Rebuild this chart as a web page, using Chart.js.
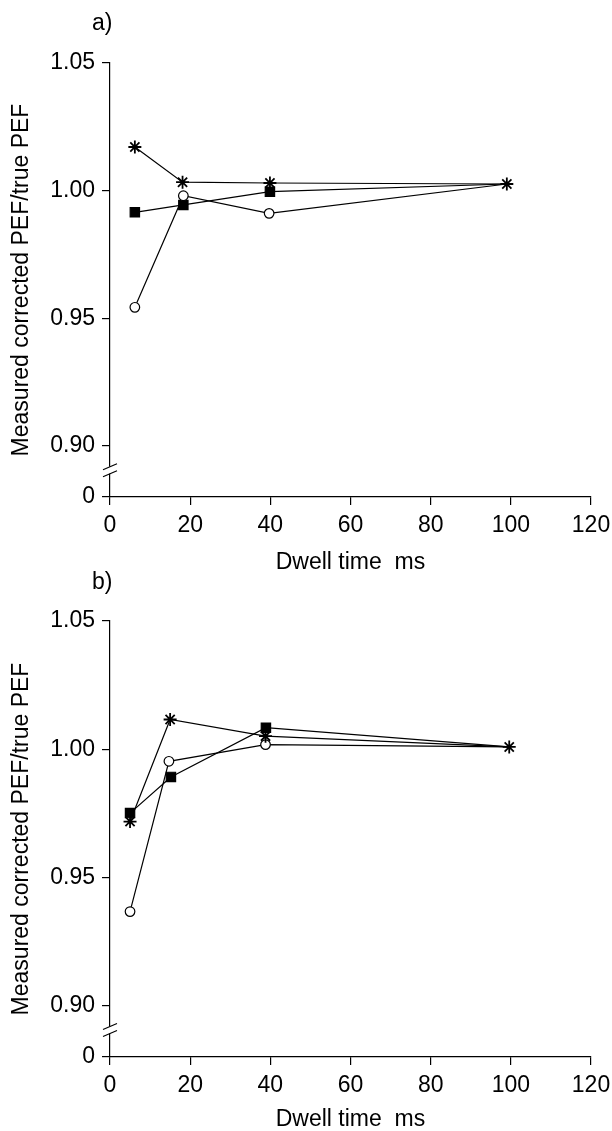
<!DOCTYPE html>
<html>
<head>
<meta charset="utf-8">
<script src="https://cdn.jsdelivr.net/npm/chart.js@4.4.1/dist/chart.umd.min.js"></script>
<style>
  html, body { margin: 0; padding: 0; background: #fff; overflow: hidden; }
  #page { position: relative; width: 612px; height: 1131px; }
  canvas { position: absolute; left: 0; }
  #chartA { top: 0; }
  #chartB { top: 560px; }
  .panel { position: absolute; left: 92px; font: 23px 'Liberation Sans', Arial, sans-serif; color: #000; z-index: 2; line-height: 1; }
</style>
</head>
<body>
<div id="page">
  <canvas id="chartA" width="612" height="600"></canvas>
  <canvas id="chartB" width="612" height="600"></canvas>
  <div class="panel" style="top: 11px;">a)</div>
  <div class="panel" style="top: 570px;">b)</div>
</div>
<script>
// tick values; 0.88 stands for the "0" drawn below the axis break
const xTicks = [0, 20, 40, 60, 80, 100, 120];
const yTickValues = [0.88, 0.90, 0.95, 1.00, 1.05];
const yTickLabels = ['0', '0.90', '0.95', '1.00', '1.05'];
const breakAt = 0.8905;

// panel a
const aStarX = [6.2, 18.1, 39.9, 99.0];
const aStarY = [1.0171, 1.0033, 1.0030, 1.0026];
const aSquareX = [6.2, 18.3, 39.9, 99.0];
const aSquareY = [0.9915, 0.9944, 0.9996, 1.0026];
const aCircleX = [6.2, 18.3, 39.7, 99.0];
const aCircleY = [0.9543, 0.9980, 0.9911, 1.0026];

// panel b
const bStarX = [5.0, 15.0, 38.8, 99.6];
const bStarY = [0.9718, 1.0116, 1.0051, 1.0009];
const bSquareX = [5.0, 15.2, 38.9, 99.6];
const bSquareY = [0.9751, 0.9892, 1.0084, 1.0009];
const bCircleX = [5.0, 14.7, 38.8, 99.6];
const bCircleY = [0.9367, 0.9953, 1.0018, 1.0009];

Chart.defaults.color = '#000';
Chart.defaults.font.family = "'Liberation Sans', Arial, sans-serif";
Chart.defaults.font.size = 23;

const axisBreak = {
  id: 'axisBreak',
  afterDraw(chart) {
    const y = chart.scales.y;
    const ctx = chart.ctx;
    const x0 = chart.chartArea.left;
    const yc = y.getPixelForValue(breakAt);
    ctx.save();
    ctx.fillStyle = '#fff';
    ctx.fillRect(x0 - 2, yc - 3.5, 4, 7);
    ctx.strokeStyle = '#000';
    ctx.lineWidth = 1.2;
    ctx.beginPath();
    ctx.moveTo(x0 - 7, yc - 0.5);
    ctx.lineTo(x0 + 7, yc - 6.5);
    ctx.moveTo(x0 - 7, yc + 6.5);
    ctx.lineTo(x0 + 7, yc + 0.5);
    ctx.stroke();
    ctx.restore();
  }
};

// the shared end point at ~100 ms shows only the asterisk
function series(xs, ys, style, fill, r, bw, hideLast) {
  return {
    data: xs.map((x, i) => ({ x: x, y: ys[i] })),
    pointStyle: style,
    pointRadius: xs.map((x, i) => (hideLast && i === xs.length - 1 ? 0 : r)),
    pointBackgroundColor: fill,
    pointBorderColor: '#000',
    pointBorderWidth: bw,
    borderColor: '#000',
    borderWidth: 1.2,
    fill: false,
    tension: 0
  };
}

function makeChart(id, top, titlePad, sets) {
  const H = 600;
  const bottom = 497;
  return new Chart(document.getElementById(id), {
    type: 'line',
    data: {
      datasets: [
        series(sets[0], sets[1], 'star', '#000', 6.5, 1.8, false),
        series(sets[4], sets[5], 'circle', '#fff', 4.8, 1.2, true),
        series(sets[2], sets[3], 'rect', '#000', 6.6, 1.2, true)
      ]
    },
    options: {
      responsive: false,
      animation: false,
      layout: { padding: { left: 0, right: 21, top: top, bottom: 0 } },
      plugins: { legend: { display: false }, tooltip: { enabled: false } },
      scales: {
        x: {
          type: 'linear',
          min: 0,
          max: 120,
          afterBuildTicks: s => { s.ticks = xTicks.map(v => ({ value: v })); },
          afterFit: s => { s.height = H - bottom; s.paddingLeft = 0; s.paddingRight = 0; },
          grid: { drawOnChartArea: false, drawTicks: true, tickLength: 8, color: '#000', lineWidth: 1.2 },
          border: { display: true, color: '#000', width: 1.2 },
          ticks: { padding: 7, maxRotation: 0 },
          title: { display: true, text: 'Dwell time  ms', padding: { bottom: titlePad } }
        },
        y: {
          type: 'linear',
          min: 0.88,
          max: 1.05,
          afterBuildTicks: s => { s.ticks = yTickValues.map(v => ({ value: v })); },
          afterFit: s => { s.width = 110; s.paddingTop = 0; s.paddingBottom = 0; },
          grid: { drawOnChartArea: false, drawTicks: true, tickLength: 8, color: '#000', lineWidth: 1.2 },
          border: { display: true, color: '#000', width: 1.2 },
          ticks: {
            padding: 7,
            callback: v => {
              const i = yTickValues.findIndex(t => Math.abs(t - v) < 1e-6);
              return i >= 0 ? yTickLabels[i] : '';
            }
          },
          title: { display: true, text: 'Measured corrected PEF/true PEF', padding: { top: 8 } }
        }
      }
    },
    plugins: [axisBreak]
  });
}

makeChart('chartA', 63, 24, [aStarX, aStarY, aSquareX, aSquareY, aCircleX, aCircleY]);
makeChart('chartB', 61, 27, [bStarX, bStarY, bSquareX, bSquareY, bCircleX, bCircleY]);
</script>
</body>
</html>
